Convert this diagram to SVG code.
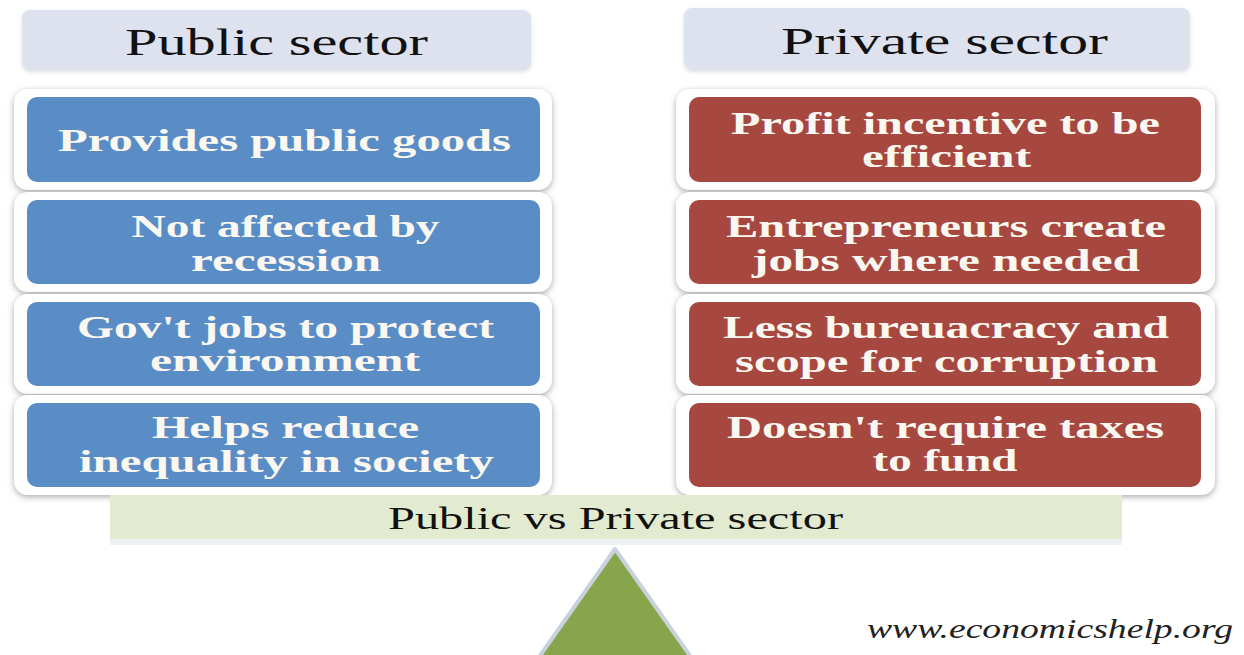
<svg xmlns="http://www.w3.org/2000/svg" width="1244" height="655" viewBox="0 0 1244 655">
<defs>
<filter id="sh" x="-5%" y="-15%" width="110%" height="135%">
<feDropShadow dx="0" dy="2" stdDeviation="3" flood-color="#6f6f6f" flood-opacity="0.6"/>
</filter>
<filter id="shl" x="-5%" y="-15%" width="110%" height="140%">
<feDropShadow dx="0" dy="2" stdDeviation="2" flood-color="#9aa4b4" flood-opacity="0.35"/>
</filter>
</defs>
<style>
.hdr{fill:#dde2ee}
.outer{fill:#ffffff;filter:url(#sh)}
.blue{fill:#5a8dc6}
.red{fill:#a64840}
.ht{font-family:"Liberation Serif","DejaVu Serif",serif;font-size:38px;fill:#111;text-anchor:middle}
.bt{font-family:"Liberation Serif","DejaVu Serif",serif;font-weight:bold;font-size:32px;fill:#fbf8f2;text-anchor:middle}
.bar{fill:#e2eacf}
.bart{font-family:"Liberation Serif","DejaVu Serif",serif;font-size:32px;fill:#111;text-anchor:middle}
.wm{font-family:"Liberation Serif","DejaVu Serif",serif;font-style:italic;font-size:27px;fill:#222;text-anchor:middle}
</style>
<rect width="1244" height="655" fill="#ffffff"/>

<g id="header-public">
<rect class="hdr" x="22" y="10" width="509" height="60" rx="8" filter="url(#shl)"/>
<text class="ht" x="276.5" y="55" textLength="303" lengthAdjust="spacingAndGlyphs">Public sector</text>
</g>
<g id="header-private">
<rect class="hdr" x="684" y="8" width="506" height="62" rx="8" filter="url(#shl)"/>
<text class="ht" x="944.5" y="54" textLength="327" lengthAdjust="spacingAndGlyphs">Private sector</text>
</g>

<g id="public-1">
<rect class="outer" x="14" y="89" width="538" height="101" rx="14"/>
<rect class="blue" x="27" y="97" width="513" height="85" rx="10"/>
<text class="bt" x="284.5" y="151" textLength="453" lengthAdjust="spacingAndGlyphs">Provides public goods</text>
</g>
<g id="public-2">
<rect class="outer" x="14" y="192" width="538" height="100" rx="14"/>
<rect class="blue" x="27" y="200" width="513" height="84" rx="10"/>
<text class="bt" x="285.5" y="237" textLength="308" lengthAdjust="spacingAndGlyphs">Not affected by</text>
<text class="bt" x="286" y="271" textLength="190" lengthAdjust="spacingAndGlyphs">recession</text>
</g>
<g id="public-3">
<rect class="outer" x="14" y="294" width="538" height="100" rx="14"/>
<rect class="blue" x="27" y="302" width="513" height="84" rx="10"/>
<text class="bt" x="285.5" y="338" textLength="417" lengthAdjust="spacingAndGlyphs">Gov't jobs to protect</text>
<text class="bt" x="285" y="371" textLength="270" lengthAdjust="spacingAndGlyphs">environment</text>
</g>
<g id="public-4">
<rect class="outer" x="14" y="395" width="538" height="100" rx="14"/>
<rect class="blue" x="27" y="403" width="513" height="84" rx="10"/>
<text class="bt" x="285.5" y="438" textLength="267" lengthAdjust="spacingAndGlyphs">Helps reduce</text>
<text class="bt" x="286.5" y="472" textLength="415" lengthAdjust="spacingAndGlyphs">inequality in society</text>
</g>

<g id="private-1">
<rect class="outer" x="676" y="89" width="539" height="101" rx="14"/>
<rect class="red" x="689" y="97" width="512" height="85" rx="10"/>
<text class="bt" x="945.5" y="134" textLength="429" lengthAdjust="spacingAndGlyphs">Profit incentive to be</text>
<text class="bt" x="946.5" y="167" textLength="169" lengthAdjust="spacingAndGlyphs">efficient</text>
</g>
<g id="private-2">
<rect class="outer" x="676" y="192" width="539" height="100" rx="14"/>
<rect class="red" x="689" y="200" width="512" height="84" rx="10"/>
<text class="bt" x="946" y="237" textLength="440" lengthAdjust="spacingAndGlyphs">Entrepreneurs create</text>
<text class="bt" x="946" y="271" textLength="388" lengthAdjust="spacingAndGlyphs">jobs where needed</text>
</g>
<g id="private-3">
<rect class="outer" x="676" y="294" width="539" height="100" rx="14"/>
<rect class="red" x="689" y="302" width="512" height="84" rx="10"/>
<text class="bt" x="946" y="338" textLength="446" lengthAdjust="spacingAndGlyphs">Less bureuacracy and</text>
<text class="bt" x="946.5" y="372" textLength="423" lengthAdjust="spacingAndGlyphs">scope for corruption</text>
</g>
<g id="private-4">
<rect class="outer" x="676" y="395" width="539" height="100" rx="14"/>
<rect class="red" x="689" y="403" width="512" height="84" rx="10"/>
<text class="bt" x="945.5" y="438" textLength="437" lengthAdjust="spacingAndGlyphs">Doesn't require taxes</text>
<text class="bt" x="945" y="471" textLength="145" lengthAdjust="spacingAndGlyphs">to fund</text>
</g>

<g id="beam">
<rect x="110" y="497" width="1012" height="48" fill="#eef1f4"/>
<rect class="bar" x="110" y="495" width="1012" height="44"/>
<text class="bart" x="615.5" y="529" textLength="455" lengthAdjust="spacingAndGlyphs">Public vs Private sector</text>
</g>

<g id="fulcrum">
<polygon points="615,549 537,660 693,660" fill="#87a54a" stroke="#c8d2de" stroke-width="4" stroke-linejoin="round"/>
</g>

<g id="watermark">
<text class="wm" x="1050" y="638" textLength="366" lengthAdjust="spacingAndGlyphs">www.economicshelp.org</text>
</g>
</svg>
